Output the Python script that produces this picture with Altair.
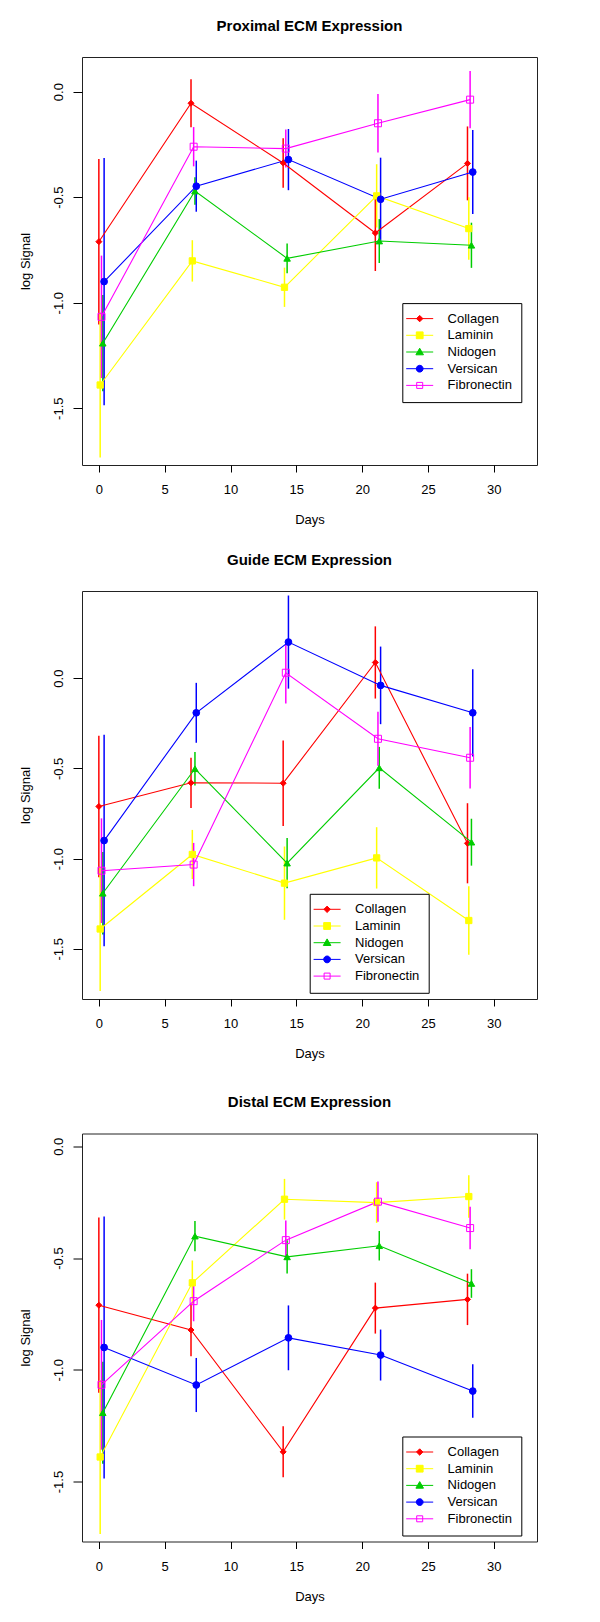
import altair as alt
import pandas as pd

FONT = "Liberation Sans"

# ---------------- data ----------------
days = [0, 7, 14, 21, 28]
genes = ["Collagen", "Laminin", "Nidogen", "Versican", "Fibronectin"]
# small horizontal dodge (days) used in the original to separate the series
dodge = [0.0, 0.1, 0.3, 0.4, 0.2]

prox_mean = {
    "Collagen":    [-0.711, -0.055, -0.338, -0.670, -0.340],
    "Laminin":     [-1.390, -0.802, -0.927, -0.494, -0.649],
    "Nidogen":     [-1.192, -0.471, -0.790, -0.708, -0.728],
    "Versican":    [-0.900, -0.448, -0.322, -0.510, -0.381],
    "Fibronectin": [-1.067, -0.261, -0.270, -0.150, -0.038],
}
prox_se = {
    "Collagen":    [0.392, 0.114, 0.117, 0.180, 0.175],
    "Laminin":     [0.344, 0.098, 0.093, 0.150, 0.148],
    "Nidogen":     [0.228, 0.065, 0.070, 0.104, 0.107],
    "Versican":    [0.586, 0.121, 0.145, 0.197, 0.199],
    "Fibronectin": [0.290, 0.093, 0.090, 0.139, 0.136],
}
guide_mean = {
    "Collagen":    [-0.711, -0.580, -0.582, 0.087, -0.915],
    "Laminin":     [-1.390, -0.977, -1.136, -0.996, -1.343],
    "Nidogen":     [-1.192, -0.502, -1.025, -0.497, -0.909],
    "Versican":    [-0.900, -0.192, 0.200, -0.040, -0.192],
    "Fibronectin": [-1.067, -1.033, 0.030, -0.336, -0.441],
}
guide_se = {
    "Collagen":    [0.392, 0.139, 0.237, 0.200, 0.222],
    "Laminin":     [0.344, 0.136, 0.203, 0.170, 0.190],
    "Nidogen":     [0.228, 0.093, 0.139, 0.116, 0.130],
    "Versican":    [0.586, 0.166, 0.258, 0.215, 0.242],
    "Fibronectin": [0.290, 0.120, 0.170, 0.150, 0.171],
}
dist_mean = {
    "Collagen":    [-0.711, -0.822, -1.367, -0.724, -0.685],
    "Laminin":     [-1.390, -0.611, -0.237, -0.252, -0.225],
    "Nidogen":     [-1.192, -0.402, -0.495, -0.445, -0.614],
    "Versican":    [-0.900, -1.068, -0.857, -0.934, -1.095],
    "Fibronectin": [-1.067, -0.693, -0.420, -0.248, -0.366],
}
dist_se = {
    "Collagen":    [0.392, 0.117, 0.114, 0.114, 0.115],
    "Laminin":     [0.344, 0.100, 0.091, 0.091, 0.095],
    "Nidogen":     [0.228, 0.068, 0.074, 0.066, 0.064],
    "Versican":    [0.586, 0.121, 0.145, 0.114, 0.120],
    "Fibronectin": [0.290, 0.090, 0.088, 0.090, 0.095],
}

x_ticks = [0, 5, 10, 15, 20, 25, 30]
y_ticks = [-1.5, -1.0, -0.5, 0.0]

# ---------------- styles ----------------
colors = ["#FF0000", "#FFFF00", "#00CD00", "#0000FF", "#FF00FF"]
fills = ["#FF0000", "#FFFF00", "#00CD00", "#0000FF", "transparent"]
shapes = ["diamond", "square", "triangle-up", "circle", "square"]
sizes = [36, 49, 64, 38, 42]
LINE = "M-3.375,0H3.375"
legend_shapes = [
    LINE + "M0,-0.8L0.8,0L0,0.8L-0.8,0Z",
    LINE + "M-0.85,-0.85H0.85V0.85H-0.85Z",
    LINE + "M0,-0.95L0.95,0.7L-0.95,0.7Z",
    LINE + "M0.85,0A0.85,0.85,0,1,1,-0.85,0A0.85,0.85,0,1,1,0.85,0Z",
    LINE + "M-0.75,-0.75H0.75V0.75H-0.75Z",
]

W, H = 455, 408
XDOM = [-1.28, 33.28]

xaxis = alt.Axis(values=x_ticks, tickSize=7, labelPadding=21.6, labelBaseline="alphabetic",
                 labelFlush=False, labelOverlap=False, titleX=W / 2, titleY=58.5,
                 titleBaseline="alphabetic", titleAlign="center")
yaxis = alt.Axis(values=y_ticks, tickSize=9, labelPadding=10.3, labelAngle=-90,
                 labelAlign="center", labelBaseline="alphabetic", labelFlush=False,
                 labelOverlap=False,
                 labelExpr="replace(format(datum.value, '.1f'), '\u2212', '-')",
                 titleAngle=-90, titleX=-52.5, titleY=H / 2, titleAlign="center",
                 titleBaseline="alphabetic")


def panel(title, means, ses, ydom, lx, ly):
    rows = []
    for g, dx in zip(genes, dodge):
        for d, m, s in zip(days, means[g], ses[g]):
            rows.append({"Gene": g, "Day": d + dx, "Mean": m, "Lo": m - s, "Hi": m + s})
    df = pd.DataFrame(rows)

    xs = alt.Scale(domain=XDOM, nice=False, zero=False)
    ys = alt.Scale(domain=ydom, nice=False, zero=False)
    x = alt.X("Day:Q", scale=xs, axis=xaxis, title="Days")
    gdom = dict(domain=genes)

    base = alt.Chart(df)
    bars = base.mark_rule(strokeWidth=1.5).encode(
        x=x,
        y=alt.Y("Lo:Q", scale=ys, axis=yaxis, title="log Signal"),
        y2="Hi:Q",
        color=alt.Color("Gene:N", scale=alt.Scale(range=colors, **gdom), legend=None),
    )
    lines = base.mark_line(strokeWidth=1.1).encode(
        x=x,
        y=alt.Y("Mean:Q", scale=ys, axis=yaxis, title="log Signal"),
        color=alt.Color("Gene:N", scale=alt.Scale(range=colors, **gdom), legend=None),
        order="Day:Q",
    )
    points = base.mark_point(filled=True, strokeWidth=1, opacity=1).encode(
        x=x,
        y=alt.Y("Mean:Q", scale=ys, axis=yaxis, title="log Signal"),
        fill=alt.Fill("Gene:N", scale=alt.Scale(range=fills, **gdom), legend=None),
        stroke=alt.Stroke("Gene:N", scale=alt.Scale(range=colors, **gdom), legend=None),
        shape=alt.Shape("Gene:N", scale=alt.Scale(range=shapes, **gdom), legend=None),
        size=alt.Size("Gene:N", scale=alt.Scale(range=sizes, **gdom), legend=None),
    )
    leg = alt.Legend(
        orient="none", legendX=lx, legendY=ly, title=None, direction="vertical",
        labelFont=FONT, labelFontSize=13, labelColor="black", labelLimit=0,
        symbolSize=64, symbolStrokeWidth=1, symbolOffset=1.9, labelOffset=21.4,
        padding=9, rowPadding=2.7, strokeColor="black", fillColor="white",
        symbolOpacity=1,
    )
    legend_layer = base.transform_filter("false").mark_point(
        filled=True, strokeWidth=1, opacity=1
    ).encode(
        x=x,
        y=alt.Y("Mean:Q", scale=ys, axis=yaxis, title="log Signal"),
        fill=alt.Fill("Gene:N", scale=alt.Scale(range=fills, **gdom), legend=leg),
        stroke=alt.Stroke("Gene:N", scale=alt.Scale(range=colors, **gdom), legend=leg),
        shape=alt.Shape("Gene:N", scale=alt.Scale(range=legend_shapes, **gdom), legend=leg),
    )
    return alt.layer(bars, lines, points, legend_layer).resolve_scale(
        color="independent", fill="independent", stroke="independent",
        shape="independent", size="independent"
    ).properties(
        width=W, height=H,
        title=alt.TitleParams(title, font=FONT, fontSize=15, fontWeight="bold",
                              color="black", offset=11.3, baseline="alphabetic",
                              anchor="middle", frame="group"),
    )


p1 = panel("Proximal ECM Expression", prox_mean, prox_se, [-1.769, 0.164], 320.3, 246.1)
p2 = panel("Guide ECM Expression", guide_mean, guide_se, [-1.778, 0.483], 227.7, 302.8)
p3 = panel("Distal ECM Expression", dist_mean, dist_se, [-1.768, 0.057], 320.3, 303.0)

chart = alt.vconcat(alt.vconcat(p1, p2, spacing=25), p3, spacing=33.5).properties(
    padding={"left": 11, "top": 10, "right": 5, "bottom": 5},
    background="white",
).configure_view(
    stroke="#222222", strokeWidth=1
).configure_axis(
    domain=False, grid=False, tickColor="black", tickWidth=1,
    labelColor="black", labelFont=FONT, labelFontSize=13,
    titleColor="black", titleFont=FONT, titleFontSize=13, titleFontWeight="normal",
)

chart.save("out.html", embed_options={"renderer": "svg", "actions": False})
